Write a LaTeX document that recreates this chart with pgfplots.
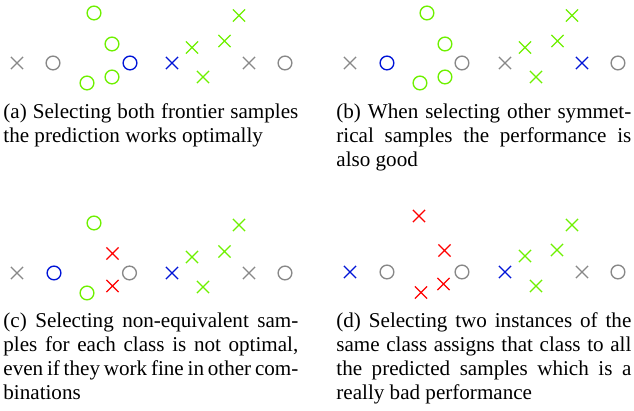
\documentclass[border=0pt]{standalone}
\usepackage{pgfplots}
\pgfplotsset{compat=1.18}
\usepackage{fontspec}
\setmainfont{Liberation Serif}
\definecolor{cgray}{RGB}{136,136,136}
\definecolor{cgreen}{RGB}{110,240,0}
\definecolor{cblue}{RGB}{0,20,215}
\definecolor{cred}{RGB}{255,0,0}
\pgfplotsset{
  panel/.style={scale only axis, width=142.2pt, height=47.4pt,
    xmin=0, xmax=300, ymin=0, ymax=100, y dir=reverse,
    hide axis, clip=false, anchor=north west},
  mx/.style={only marks, mark=x, mark size=4.1pt, line width=0.65pt},
  mo/.style={only marks, mark=o, mark size=3.25pt, line width=0.65pt},
}
\newcommand{\J}[1]{\makebox[139.8pt][s]{#1}}
\begin{document}
\begin{tikzpicture}
\useasboundingbox (0,0) rectangle (300.52pt,-194.81pt);
% (a)
\begin{axis}[panel, at={(0pt,0pt)}]
\addplot[mx, color=cgray] coordinates {(17,63) (249,63)};
\addplot[mo, color=cgray] coordinates {(53,63) (285,63)};
\addplot[mo, color=cgreen] coordinates {(94,13) (112,44) (87,83) (112,77)};
\addplot[mo, color=cblue] coordinates {(130,63)};
\addplot[mx, color=cblue] coordinates {(172,63)};
\addplot[mx, color=cgreen] coordinates {(192,47.5) (203,77) (224.5,41) (239,15.5)};
\end{axis}
% (b)
\begin{axis}[panel, at={(157.84pt,0pt)}]
\addplot[mx, color=cgray] coordinates {(17,63) (172,63)};
\addplot[mo, color=cblue] coordinates {(54,63)};
\addplot[mo, color=cgreen] coordinates {(94,13) (112,44) (87,83) (112,77)};
\addplot[mo, color=cgray] coordinates {(129,63) (285,63)};
\addplot[mx, color=cgreen] coordinates {(192,47.5) (203,77) (224.5,41) (239,15.5)};
\addplot[mx, color=cblue] coordinates {(249,63)};
\end{axis}
% (c)
\begin{axis}[panel, at={(0pt,-99.54pt)}]
\addplot[mx, color=cgray] coordinates {(17,63) (249,63)};
\addplot[mo, color=cblue] coordinates {(54,63)};
\addplot[mo, color=cgreen] coordinates {(94,13) (87,83)};
\addplot[mx, color=cred] coordinates {(112.5,43.5) (112.5,76)};
\addplot[mo, color=cgray] coordinates {(129.5,63) (285,63)};
\addplot[mx, color=cblue] coordinates {(172,63)};
\addplot[mx, color=cgreen] coordinates {(192,47) (203,77) (224.5,41.5) (239,15)};
\end{axis}
% (d)
\begin{axis}[panel, at={(157.84pt,-99.54pt)}]
\addplot[mx, color=cblue] coordinates {(17,62) (172,62)};
\addplot[mo, color=cgray] coordinates {(54,62) (129,62) (285,62)};
\addplot[mx, color=cred] coordinates {(86,6) (111.5,40.5) (88,82.5) (110.5,74)};
\addplot[mx, color=cgreen] coordinates {(192,46) (203,76) (224,40) (239,15)};
\addplot[mx, color=cgray] coordinates {(249,62)};
\end{axis}
% captions
\begin{scope}[x=0.474pt, y=-0.474pt,
  every node/.style={anchor=north west, inner sep=0pt, align=left,
  font=\fontsize{10}{11.4}\selectfont}]
\node at (3,103.5) {\J{(a) Selecting both frontier samples}\\the prediction works optimally};
\node at (336,103.5) {\J{(b) When selecting other symmet-}\\\J{rical samples the performance is}\\also good};
\node at (3,312.5) {\J{(c) Selecting non-equivalent sam-}\\\J{ples for each class is not optimal,}\\\J{even if they work fine in other com-}\\binations};
\node at (336,312.5) {\J{(d) Selecting two instances of the}\\\J{same class assigns that class to all}\\\J{the predicted samples which is a}\\really bad performance};
\end{scope}
\end{tikzpicture}
\end{document}
